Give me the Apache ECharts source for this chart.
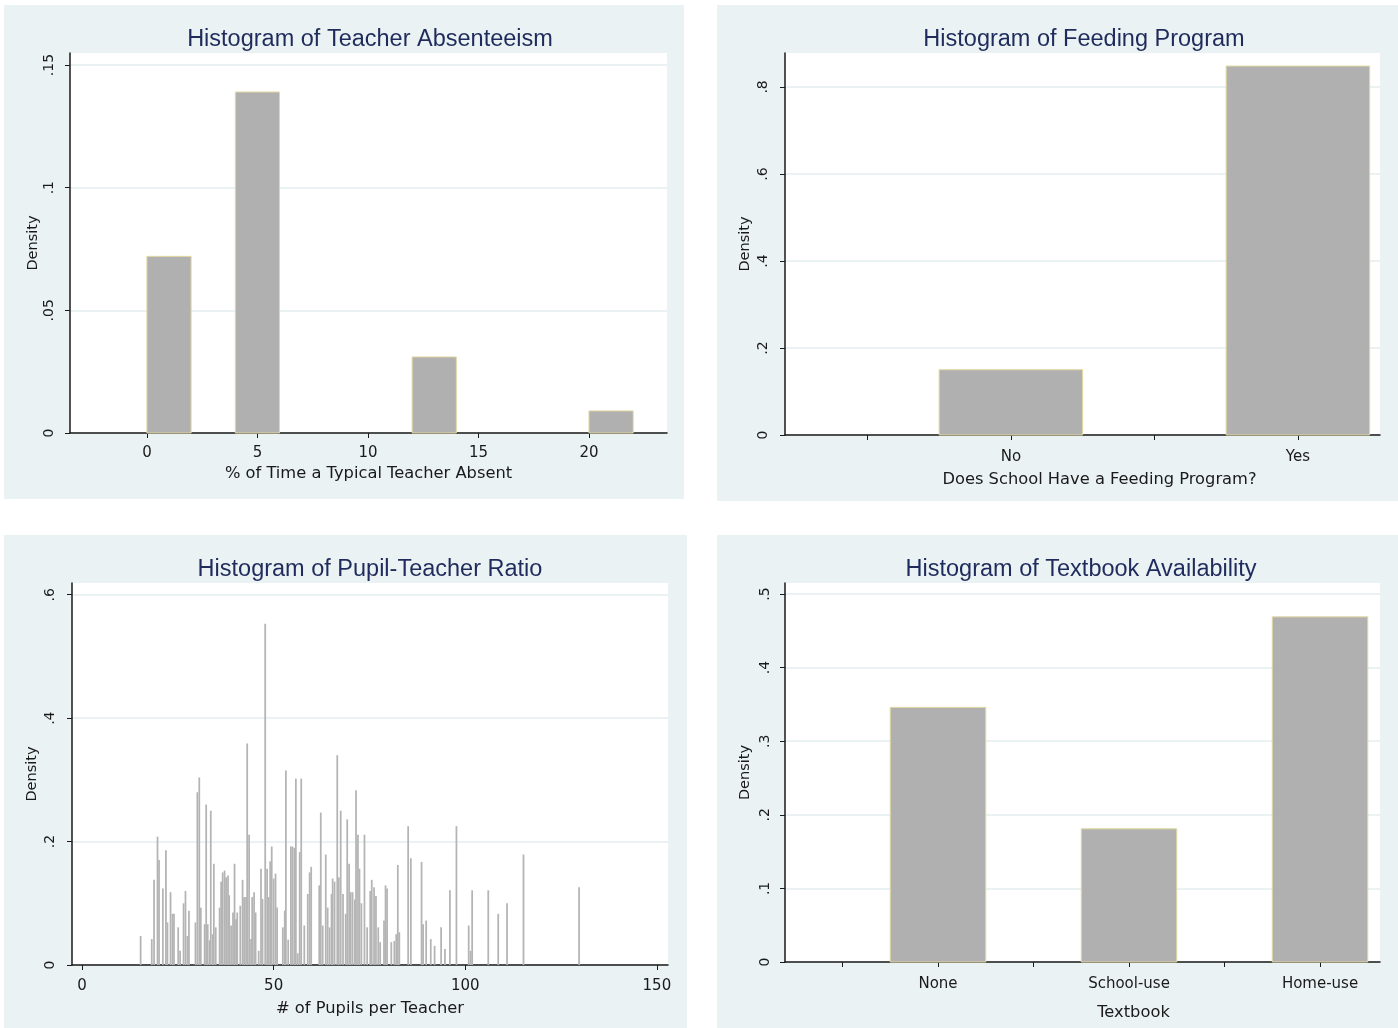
<!DOCTYPE html>
<html>
<head>
<meta charset="utf-8">
<title>School histograms</title>
<script src="https://cdn.jsdelivr.net/npm/echarts@6/dist/echarts.min.js"></script>
<style>
  html, body { margin: 0; padding: 0; background: #ffffff; }
  #chart { width: 1398px; height: 1028px; }
</style>
</head>
<body>
<div id="chart"></div>
<script>
// teacher absenteeism: bins of width 2
const absBinStart = [0, 4, 12, 20];
const absDensity = [0.072, 0.139, 0.031, 0.009];
const absTicks = [0, 5, 10, 15, 20];
const absDensityTicks = [0, 0.05, 0.1, 0.15];

// feeding program (discrete)
const feedCodes = [0, 1];
const feedLabels = ['No', 'Yes'];
const feedDensity = [0.15, 0.848];
const feedDensityTicks = [0, 0.2, 0.4, 0.6, 0.8];

// pupil-teacher ratio: narrow bins, centre and density
const ptrX = [
  15.3, 18.2, 18.8, 19.7, 20.1, 21.1, 21.9, 22.3, 23.1, 23.6, 24.0, 25.1, 25.6, 26.5, 27.0, 27.5, 27.9,
  29.6, 30.1, 30.6, 31.0, 32.0, 32.4, 32.8, 33.3, 33.6, 34.1, 34.4, 34.9, 35.9, 36.3, 36.7, 37.2, 37.6,
  38.1, 38.4, 38.9, 39.4, 39.8, 40.2, 40.5, 41.3, 41.9, 42.3, 42.8, 43.1, 43.6, 44.1, 44.4, 44.9, 45.3,
  46.1, 46.7, 47.1, 47.8, 48.3, 48.7, 49.1, 49.5, 50.0, 50.5, 50.9, 52.4, 52.9, 53.2, 53.8, 54.5, 54.9,
  55.4, 55.8, 56.3, 56.8, 57.2, 58.0, 58.9, 59.4, 59.8, 61.9, 62.3, 62.8, 63.6, 64.1, 64.6, 65.1, 65.4,
  65.9, 66.6, 67.0, 67.5, 68.1, 68.8, 69.2, 69.7, 70.1, 70.6, 71.2, 71.5, 72.0, 72.4, 72.9, 73.7, 74.4,
  75.2, 75.6, 76.2, 76.7, 77.3, 77.8, 78.8, 79.2, 79.6, 80.7, 81.5, 82.0, 82.4, 82.8, 85.1, 85.8, 88.6,
  89.0, 89.8, 91.0, 92.0, 93.7, 94.7, 96.0, 97.7, 100.9, 101.4, 101.8, 106.0, 108.6, 110.9, 115.2, 129.7
];
const ptrDensity = [
  0.047, 0.042, 0.138, 0.208, 0.17, 0.124, 0.186, 0.069, 0.118, 0.083, 0.083, 0.061, 0.023, 0.10, 0.12, 0.047, 0.088,
  0.069, 0.28, 0.304, 0.093, 0.066, 0.26, 0.066, 0.04, 0.25, 0.05, 0.164, 0.061, 0.093, 0.135, 0.15, 0.153, 0.142,
  0.145, 0.113, 0.064, 0.085, 0.164, 0.074, 0.085, 0.096, 0.138, 0.11, 0.11, 0.359, 0.211, 0.042, 0.11, 0.118, 0.085,
  0.023, 0.156, 0.107, 0.553, 0.156, 0.11, 0.168, 0.192, 0.14, 0.148, 0.093, 0.061, 0.088, 0.315, 0.041, 0.192, 0.192,
  0.19, 0.302, 0.019, 0.183, 0.302, 0.064, 0.115, 0.15, 0.159, 0.129, 0.247, 0.064, 0.179, 0.093, 0.061, 0.115, 0.14,
  0.135, 0.34, 0.142, 0.25, 0.115, 0.083, 0.236, 0.164, 0.118, 0.118, 0.106, 0.283, 0.211, 0.156, 0.10, 0.211, 0.061,
  0.12, 0.138, 0.126, 0.112, 0.061, 0.037, 0.072, 0.129, 0.124, 0.037, 0.039, 0.05, 0.162, 0.053, 0.225, 0.173, 0.167,
  0.066, 0.072, 0.042, 0.031, 0.061, 0.026, 0.121, 0.225, 0.064, 0.023, 0.121, 0.121, 0.083, 0.10, 0.179, 0.126
];
const ptrTicks = [0, 50, 100, 150];
const ptrDensityTicks = [0, 0.2, 0.4, 0.6];

// textbook availability (discrete)
const bookCodes = [1, 2, 3];
const bookLabels = ['None', 'School-use', 'Home-use'];
const bookDensity = [0.346, 0.181, 0.469];
const bookDensityTicks = [0, 0.1, 0.2, 0.3, 0.4, 0.5];

const TITLE_FONT = "'Liberation Sans', Arial, sans-serif";
const FONT = "'DejaVu Sans', Verdana, sans-serif";
const PANEL_BG = '#eaf2f3';
const INK = '#1a1a1a';

const chart = echarts.init(document.getElementById('chart'));

function stataNum(v) {
  if (v === 0) return '0';
  return String(+v.toFixed(3)).replace(/^0\./, '.');
}

function binRect(fill, stroke) {
  return function (params, api) {
    const a = api.coord([api.value(0), api.value(2)]);
    const b = api.coord([api.value(1), 0]);
    return {
      type: 'rect',
      shape: { x: a[0], y: a[1], width: b[0] - a[0], height: b[1] - a[1] },
      style: { fill: fill, stroke: stroke, lineWidth: stroke ? 1 : 0 }
    };
  };
}

function yAxisFor(idx, max, ticks, labelMargin, nameGap) {
  return {
    type: 'value', gridIndex: idx, min: 0, max: max,
    name: 'Density', nameLocation: 'middle', nameGap: nameGap, nameRotate: 90,
    nameTextStyle: { fontFamily: FONT, fontSize: 14.5, color: INK },
    axisLine: { show: true, onZero: false, lineStyle: { color: INK, width: 1.5 } },
    axisTick: { show: true, length: 5, customValues: ticks, lineStyle: { color: INK } },
    axisLabel: {
      customValues: ticks, rotate: 90, margin: labelMargin,
      fontFamily: FONT, fontSize: 14, color: INK, formatter: stataNum
    },
    splitLine: { show: true, lineStyle: { color: PANEL_BG, width: 2 } }
  };
}

function xAxisFor(idx, min, max, ticks, labels, labelFmt, labelMargin, name, nameGap, nameShift) {
  return {
    type: 'value', gridIndex: idx, min: min, max: max,
    name: name, nameLocation: 'middle', nameGap: nameGap,
    nameTextStyle: { fontFamily: FONT, fontSize: 16.3, color: INK, padding: [0, 0, 0, nameShift * 2] },
    axisLine: { show: true, onZero: false, lineStyle: { color: INK, width: 1.5 } },
    axisTick: { show: true, length: 5, customValues: ticks, lineStyle: { color: INK } },
    axisLabel: {
      customValues: labels, margin: labelMargin,
      fontFamily: FONT, fontSize: 15, color: INK, formatter: labelFmt
    },
    splitLine: { show: false }
  };
}

const grids = [
  { left: 70, top: 53, width: 597, height: 380 },
  { left: 785, top: 53, width: 595, height: 382 },
  { left: 72, top: 583, width: 596, height: 382 },
  { left: 785, top: 583, width: 595, height: 379 }
].map(g => Object.assign(g, { show: true, backgroundColor: '#ffffff', borderWidth: 0, containLabel: false }));

const titles = [
  ['Histogram of Teacher Absenteeism', 365, 23],
  ['Histogram of Feeding Program', 1079, 23],
  ['Histogram of Pupil-Teacher Ratio', 365, 553],
  ['Histogram of Textbook Availability', 1076, 553]
].map(t => ({
  text: t[0], left: t[1], top: t[2], textAlign: 'center',
  textStyle: { fontFamily: TITLE_FONT, fontSize: 23.5, fontWeight: 'normal', color: '#1f2b5c' }
}));

const BAR_FILL = '#b0b0b0';
const BAR_EDGE = '#e2d9a2';

const option = {
  backgroundColor: '#ffffff',
  animation: false,
  graphic: [
    { type: 'rect', z: -10, shape: { x: 4, y: 5, width: 680, height: 494 }, style: { fill: PANEL_BG } },
    { type: 'rect', z: -10, shape: { x: 717, y: 5, width: 681, height: 496 }, style: { fill: PANEL_BG } },
    { type: 'rect', z: -10, shape: { x: 4, y: 535, width: 683, height: 493 }, style: { fill: PANEL_BG } },
    { type: 'rect', z: -10, shape: { x: 717, y: 535, width: 681, height: 493 }, style: { fill: PANEL_BG } }
  ],
  title: titles,
  grid: grids,
  xAxis: [
    xAxisFor(0, -3.48, 23.53, absTicks, absTicks, v => String(v), 13,
      '% of Time a Typical Teacher Absent', 32.5, 0),
    xAxisFor(1, -0.787, 1.286, [-0.5, 0, 0.5, 1], feedCodes, v => feedLabels[feedCodes.indexOf(v)] || '', 15,
      'Does School Have a Feeding Program?', 36.5, 17),
    xAxisFor(2, -2.61, 152.9, ptrTicks, ptrTicks, v => String(v), 14,
      '# of Pupils per Teacher', 35.5, 0),
    xAxisFor(3, 0.199, 3.314, [0.5, 1, 1.5, 2, 2.5, 3], bookCodes, v => bookLabels[bookCodes.indexOf(v)] || '', 15,
      'Textbook', 42.5, 51)
  ],
  yAxis: [
    yAxisFor(0, 0.1549, absDensityTicks, 14, 29),
    yAxisFor(1, 0.878, feedDensityTicks, 15, 32),
    yAxisFor(2, 0.619, ptrDensityTicks, 15, 32),
    yAxisFor(3, 0.515, bookDensityTicks, 13, 32)
  ],
  series: [
    {
      type: 'custom', xAxisIndex: 0, yAxisIndex: 0,
      renderItem: binRect(BAR_FILL, BAR_EDGE),
      encode: { x: [0, 1], y: 2 },
      data: absBinStart.map((s, i) => [s, s + 2, absDensity[i]])
    },
    {
      type: 'custom', xAxisIndex: 1, yAxisIndex: 1,
      renderItem: binRect(BAR_FILL, BAR_EDGE),
      encode: { x: [0, 1], y: 2 },
      data: feedCodes.map((c, i) => [c - 0.25, c + 0.25, feedDensity[i]])
    },
    {
      type: 'custom', xAxisIndex: 2, yAxisIndex: 2,
      renderItem: binRect('#b4b4b4', null),
      encode: { x: [0, 1], y: 2 },
      data: ptrX.map((x, i) => [x - 0.23, x + 0.23, ptrDensity[i]])
    },
    {
      type: 'custom', xAxisIndex: 3, yAxisIndex: 3,
      renderItem: binRect(BAR_FILL, BAR_EDGE),
      encode: { x: [0, 1], y: 2 },
      data: bookCodes.map((c, i) => [c - 0.25, c + 0.25, bookDensity[i]])
    }
  ]
};

chart.setOption(option);
</script>
</body>
</html>
